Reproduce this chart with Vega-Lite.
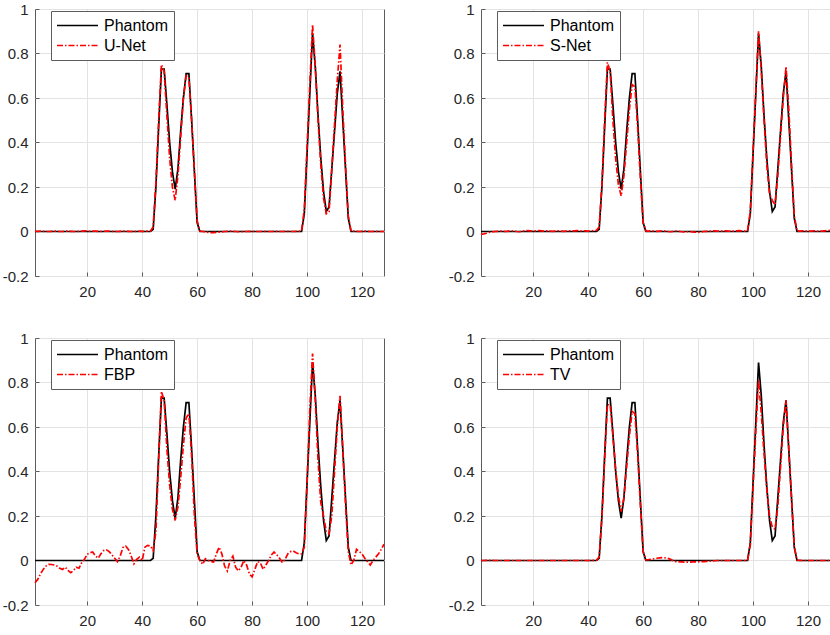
{
  "$schema": "https://vega.github.io/schema/vega-lite/v6.json",
  "padding": {"left": 1, "top": 1, "right": 0, "bottom": 0},
  "bounds": "flush",
  "columns": 2,
  "spacing": {"row": 62, "column": 97},
  "config": {
    "view": {"stroke": "#5c5c5c", "strokeWidth": 1},
    "font": "Liberation Sans",
    "axis": {
      "title": null,
      "domain": false,
      "grid": true,
      "gridColor": "#e3e3e3",
      "tickColor": "#5c5c5c",
      "tickSize": -4,
      "labelFont": "Liberation Sans",
      "labelFontSize": 15,
      "labelColor": "#262626"
    },
    "legend": {
      "orient": "none",
      "legendX": 16,
      "legendY": 2,
      "symbolType": "stroke",
      "symbolSize": 1681,
      "symbolStrokeWidth": 1.5,
      "labelFont": "Liberation Sans",
      "labelFontSize": 16,
      "labelColor": "#000000",
      "labelOffset": 5,
      "strokeColor": "#5c5c5c",
      "fillColor": "#ffffff",
      "padding": 5,
      "clipHeight": 19,
      "rowPadding": 1
    }
  },
  "data": {
    "values": [
      {"x": 1, "Phantom": 0, "U-Net": 0.001, "S-Net": -0.013, "FBP": -0.1, "TV": 0},
      {"x": 2, "Phantom": 0, "U-Net": 0.001, "S-Net": -0.011, "FBP": -0.085, "TV": 0},
      {"x": 3, "Phantom": 0, "U-Net": 0.002, "S-Net": -0.008, "FBP": -0.06, "TV": 0.001},
      {"x": 4, "Phantom": 0, "U-Net": 0.001, "S-Net": -0.004, "FBP": -0.04, "TV": 0.001},
      {"x": 5, "Phantom": 0, "U-Net": 0, "S-Net": -0.002, "FBP": -0.025, "TV": 0.001},
      {"x": 6, "Phantom": 0, "U-Net": 0, "S-Net": 0, "FBP": -0.017, "TV": 0},
      {"x": 7, "Phantom": 0, "U-Net": 0.001, "S-Net": 0.001, "FBP": -0.018, "TV": 0},
      {"x": 8, "Phantom": 0, "U-Net": 0.002, "S-Net": 0.002, "FBP": -0.02, "TV": 0},
      {"x": 9, "Phantom": 0, "U-Net": 0.001, "S-Net": 0.001, "FBP": -0.025, "TV": 0},
      {"x": 10, "Phantom": 0, "U-Net": 0, "S-Net": 0, "FBP": -0.035, "TV": 0},
      {"x": 11, "Phantom": 0, "U-Net": 0, "S-Net": 0.002, "FBP": -0.04, "TV": 0},
      {"x": 12, "Phantom": 0, "U-Net": 0.001, "S-Net": 0.003, "FBP": -0.03, "TV": 0},
      {"x": 13, "Phantom": 0, "U-Net": 0.002, "S-Net": 0.002, "FBP": -0.045, "TV": 0},
      {"x": 14, "Phantom": 0, "U-Net": 0.001, "S-Net": 0, "FBP": -0.055, "TV": 0},
      {"x": 15, "Phantom": 0, "U-Net": 0, "S-Net": -0.001, "FBP": -0.045, "TV": 0},
      {"x": 16, "Phantom": 0, "U-Net": 0, "S-Net": 0.001, "FBP": -0.03, "TV": 0},
      {"x": 17, "Phantom": 0, "U-Net": 0.001, "S-Net": 0.003, "FBP": -0.035, "TV": 0},
      {"x": 18, "Phantom": 0, "U-Net": 0.002, "S-Net": 0.004, "FBP": -0.01, "TV": 0},
      {"x": 19, "Phantom": 0, "U-Net": 0.003, "S-Net": 0.003, "FBP": 0.005, "TV": 0},
      {"x": 20, "Phantom": 0, "U-Net": 0.002, "S-Net": 0.002, "FBP": 0.028, "TV": 0},
      {"x": 21, "Phantom": 0, "U-Net": 0.001, "S-Net": 0.003, "FBP": 0.035, "TV": 0},
      {"x": 22, "Phantom": 0, "U-Net": 0.002, "S-Net": 0.004, "FBP": 0.038, "TV": 0},
      {"x": 23, "Phantom": 0, "U-Net": 0.002, "S-Net": 0.003, "FBP": 0.02, "TV": 0},
      {"x": 24, "Phantom": 0, "U-Net": 0.001, "S-Net": 0.002, "FBP": 0.01, "TV": 0},
      {"x": 25, "Phantom": 0, "U-Net": 0, "S-Net": 0.003, "FBP": 0.03, "TV": 0},
      {"x": 26, "Phantom": 0, "U-Net": 0.001, "S-Net": 0.002, "FBP": 0.045, "TV": 0},
      {"x": 27, "Phantom": 0, "U-Net": 0.002, "S-Net": 0.001, "FBP": 0.048, "TV": 0},
      {"x": 28, "Phantom": 0, "U-Net": 0.002, "S-Net": 0.002, "FBP": 0.04, "TV": 0},
      {"x": 29, "Phantom": 0, "U-Net": 0.001, "S-Net": 0.003, "FBP": 0.025, "TV": 0},
      {"x": 30, "Phantom": 0, "U-Net": 0, "S-Net": 0.002, "FBP": 0.01, "TV": 0},
      {"x": 31, "Phantom": 0, "U-Net": 0, "S-Net": 0.001, "FBP": -0.005, "TV": 0},
      {"x": 32, "Phantom": 0, "U-Net": 0.001, "S-Net": 0.002, "FBP": 0.02, "TV": 0},
      {"x": 33, "Phantom": 0, "U-Net": 0.002, "S-Net": 0.003, "FBP": 0.058, "TV": 0},
      {"x": 34, "Phantom": 0, "U-Net": 0.002, "S-Net": 0.002, "FBP": 0.065, "TV": 0},
      {"x": 35, "Phantom": 0, "U-Net": 0.001, "S-Net": 0.003, "FBP": 0.05, "TV": 0},
      {"x": 36, "Phantom": 0, "U-Net": 0, "S-Net": 0.004, "FBP": 0.02, "TV": 0},
      {"x": 37, "Phantom": 0, "U-Net": 0.001, "S-Net": 0.003, "FBP": -0.015, "TV": 0},
      {"x": 38, "Phantom": 0, "U-Net": 0.001, "S-Net": 0.002, "FBP": 0.005, "TV": 0},
      {"x": 39, "Phantom": 0, "U-Net": 0.002, "S-Net": 0.003, "FBP": 0.015, "TV": 0},
      {"x": 40, "Phantom": 0, "U-Net": 0.001, "S-Net": 0.002, "FBP": 0, "TV": 0},
      {"x": 41, "Phantom": 0, "U-Net": 0.001, "S-Net": 0.003, "FBP": 0.06, "TV": 0},
      {"x": 42, "Phantom": 0, "U-Net": 0.002, "S-Net": 0.004, "FBP": 0.068, "TV": 0.001},
      {"x": 43, "Phantom": 0, "U-Net": 0.002, "S-Net": 0.005, "FBP": 0.065, "TV": 0.002},
      {"x": 44, "Phantom": 0.01, "U-Net": 0.02, "S-Net": 0.02, "FBP": 0.045, "TV": 0.015},
      {"x": 45, "Phantom": 0.2, "U-Net": 0.22, "S-Net": 0.21, "FBP": 0.13, "TV": 0.19},
      {"x": 46, "Phantom": 0.47, "U-Net": 0.5, "S-Net": 0.5, "FBP": 0.45, "TV": 0.46},
      {"x": 47, "Phantom": 0.73, "U-Net": 0.75, "S-Net": 0.76, "FBP": 0.76, "TV": 0.7},
      {"x": 48, "Phantom": 0.73, "U-Net": 0.72, "S-Net": 0.72, "FBP": 0.72, "TV": 0.7},
      {"x": 49, "Phantom": 0.57, "U-Net": 0.52, "S-Net": 0.5, "FBP": 0.5, "TV": 0.56},
      {"x": 50, "Phantom": 0.4, "U-Net": 0.33, "S-Net": 0.33, "FBP": 0.34, "TV": 0.41},
      {"x": 51, "Phantom": 0.27, "U-Net": 0.2, "S-Net": 0.21, "FBP": 0.23, "TV": 0.29},
      {"x": 52, "Phantom": 0.19, "U-Net": 0.14, "S-Net": 0.16, "FBP": 0.18, "TV": 0.22},
      {"x": 53, "Phantom": 0.28, "U-Net": 0.25, "S-Net": 0.25, "FBP": 0.24, "TV": 0.28},
      {"x": 54, "Phantom": 0.45, "U-Net": 0.42, "S-Net": 0.4, "FBP": 0.37, "TV": 0.42},
      {"x": 55, "Phantom": 0.6, "U-Net": 0.6, "S-Net": 0.55, "FBP": 0.52, "TV": 0.56},
      {"x": 56, "Phantom": 0.71, "U-Net": 0.7, "S-Net": 0.66, "FBP": 0.64, "TV": 0.67},
      {"x": 57, "Phantom": 0.71, "U-Net": 0.69, "S-Net": 0.65, "FBP": 0.66, "TV": 0.66},
      {"x": 58, "Phantom": 0.5, "U-Net": 0.5, "S-Net": 0.47, "FBP": 0.47, "TV": 0.48},
      {"x": 59, "Phantom": 0.27, "U-Net": 0.27, "S-Net": 0.24, "FBP": 0.2, "TV": 0.25},
      {"x": 60, "Phantom": 0.04, "U-Net": 0.05, "S-Net": 0.04, "FBP": 0.03, "TV": 0.04},
      {"x": 61, "Phantom": 0, "U-Net": 0.002, "S-Net": 0.003, "FBP": 0, "TV": 0.003},
      {"x": 62, "Phantom": 0, "U-Net": 0.001, "S-Net": 0.002, "FBP": -0.017, "TV": 0.004},
      {"x": 63, "Phantom": 0, "U-Net": -0.002, "S-Net": 0.003, "FBP": 0.008, "TV": 0.006},
      {"x": 64, "Phantom": 0, "U-Net": -0.004, "S-Net": 0.002, "FBP": 0, "TV": 0.008},
      {"x": 65, "Phantom": 0, "U-Net": -0.005, "S-Net": 0.001, "FBP": -0.005, "TV": 0.01},
      {"x": 66, "Phantom": 0, "U-Net": -0.005, "S-Net": 0.002, "FBP": -0.007, "TV": 0.012},
      {"x": 67, "Phantom": 0, "U-Net": -0.004, "S-Net": 0.003, "FBP": 0.03, "TV": 0.013},
      {"x": 68, "Phantom": 0, "U-Net": -0.003, "S-Net": 0.002, "FBP": 0.06, "TV": 0.012},
      {"x": 69, "Phantom": 0, "U-Net": -0.002, "S-Net": 0, "FBP": 0.03, "TV": 0.01},
      {"x": 70, "Phantom": 0, "U-Net": 0, "S-Net": -0.001, "FBP": -0.025, "TV": 0.005},
      {"x": 71, "Phantom": 0, "U-Net": 0.001, "S-Net": 0, "FBP": -0.047, "TV": -0.002},
      {"x": 72, "Phantom": 0, "U-Net": 0.002, "S-Net": 0.002, "FBP": 0, "TV": -0.005},
      {"x": 73, "Phantom": 0, "U-Net": 0.001, "S-Net": 0.001, "FBP": 0.02, "TV": -0.006},
      {"x": 74, "Phantom": 0, "U-Net": 0, "S-Net": -0.001, "FBP": -0.03, "TV": -0.006},
      {"x": 75, "Phantom": 0, "U-Net": -0.001, "S-Net": -0.002, "FBP": -0.047, "TV": -0.007},
      {"x": 76, "Phantom": 0, "U-Net": -0.001, "S-Net": -0.001, "FBP": -0.03, "TV": -0.007},
      {"x": 77, "Phantom": 0, "U-Net": 0, "S-Net": 0, "FBP": 0, "TV": -0.007},
      {"x": 78, "Phantom": 0, "U-Net": 0, "S-Net": -0.002, "FBP": -0.02, "TV": -0.006},
      {"x": 79, "Phantom": 0, "U-Net": 0.001, "S-Net": -0.003, "FBP": -0.06, "TV": -0.006},
      {"x": 80, "Phantom": 0, "U-Net": 0.001, "S-Net": -0.004, "FBP": -0.074, "TV": -0.006},
      {"x": 81, "Phantom": 0, "U-Net": 0, "S-Net": -0.002, "FBP": -0.04, "TV": -0.005},
      {"x": 82, "Phantom": 0, "U-Net": 0, "S-Net": 0, "FBP": -0.005, "TV": -0.005},
      {"x": 83, "Phantom": 0, "U-Net": 0, "S-Net": 0.001, "FBP": -0.01, "TV": -0.004},
      {"x": 84, "Phantom": 0, "U-Net": 0.001, "S-Net": 0, "FBP": -0.04, "TV": -0.003},
      {"x": 85, "Phantom": 0, "U-Net": 0.001, "S-Net": 0.002, "FBP": -0.02, "TV": -0.002},
      {"x": 86, "Phantom": 0, "U-Net": 0, "S-Net": 0.003, "FBP": 0, "TV": -0.001},
      {"x": 87, "Phantom": 0, "U-Net": 0, "S-Net": 0.002, "FBP": 0.025, "TV": 0},
      {"x": 88, "Phantom": 0, "U-Net": 0.001, "S-Net": 0.001, "FBP": 0.038, "TV": 0},
      {"x": 89, "Phantom": 0, "U-Net": 0.001, "S-Net": 0.002, "FBP": 0.025, "TV": 0},
      {"x": 90, "Phantom": 0, "U-Net": 0, "S-Net": 0.003, "FBP": 0.01, "TV": 0},
      {"x": 91, "Phantom": 0, "U-Net": 0, "S-Net": 0.002, "FBP": -0.01, "TV": 0},
      {"x": 92, "Phantom": 0, "U-Net": 0.001, "S-Net": 0.001, "FBP": 0.005, "TV": 0},
      {"x": 93, "Phantom": 0, "U-Net": 0.001, "S-Net": 0.002, "FBP": 0.03, "TV": 0},
      {"x": 94, "Phantom": 0, "U-Net": 0, "S-Net": 0.003, "FBP": 0.04, "TV": 0},
      {"x": 95, "Phantom": 0, "U-Net": 0, "S-Net": 0.004, "FBP": 0.043, "TV": 0},
      {"x": 96, "Phantom": 0, "U-Net": 0.001, "S-Net": 0.003, "FBP": 0.035, "TV": 0},
      {"x": 97, "Phantom": 0, "U-Net": 0.001, "S-Net": 0.002, "FBP": 0.03, "TV": 0},
      {"x": 98, "Phantom": 0, "U-Net": 0.002, "S-Net": 0.004, "FBP": 0.03, "TV": 0.002},
      {"x": 99, "Phantom": 0.08, "U-Net": 0.1, "S-Net": 0.09, "FBP": 0.06, "TV": 0.07},
      {"x": 100, "Phantom": 0.35, "U-Net": 0.38, "S-Net": 0.36, "FBP": 0.35, "TV": 0.33},
      {"x": 101, "Phantom": 0.62, "U-Net": 0.66, "S-Net": 0.63, "FBP": 0.68, "TV": 0.58},
      {"x": 102, "Phantom": 0.89, "U-Net": 0.93, "S-Net": 0.9, "FBP": 0.93, "TV": 0.81},
      {"x": 103, "Phantom": 0.74, "U-Net": 0.74, "S-Net": 0.72, "FBP": 0.72, "TV": 0.66},
      {"x": 104, "Phantom": 0.52, "U-Net": 0.5, "S-Net": 0.5, "FBP": 0.45, "TV": 0.48},
      {"x": 105, "Phantom": 0.33, "U-Net": 0.3, "S-Net": 0.3, "FBP": 0.26, "TV": 0.32},
      {"x": 106, "Phantom": 0.18, "U-Net": 0.15, "S-Net": 0.17, "FBP": 0.2, "TV": 0.2},
      {"x": 107, "Phantom": 0.09, "U-Net": 0.08, "S-Net": 0.14, "FBP": 0.13, "TV": 0.15},
      {"x": 108, "Phantom": 0.11, "U-Net": 0.09, "S-Net": 0.12, "FBP": 0.12, "TV": 0.14},
      {"x": 109, "Phantom": 0.28, "U-Net": 0.28, "S-Net": 0.25, "FBP": 0.2, "TV": 0.24},
      {"x": 110, "Phantom": 0.45, "U-Net": 0.48, "S-Net": 0.43, "FBP": 0.4, "TV": 0.42},
      {"x": 111, "Phantom": 0.62, "U-Net": 0.68, "S-Net": 0.6, "FBP": 0.6, "TV": 0.6},
      {"x": 112, "Phantom": 0.72, "U-Net": 0.84, "S-Net": 0.74, "FBP": 0.74, "TV": 0.72},
      {"x": 113, "Phantom": 0.5, "U-Net": 0.55, "S-Net": 0.55, "FBP": 0.5, "TV": 0.5},
      {"x": 114, "Phantom": 0.28, "U-Net": 0.3, "S-Net": 0.3, "FBP": 0.25, "TV": 0.28},
      {"x": 115, "Phantom": 0.06, "U-Net": 0.07, "S-Net": 0.07, "FBP": 0.04, "TV": 0.06},
      {"x": 116, "Phantom": 0, "U-Net": 0.003, "S-Net": 0.003, "FBP": -0.02, "TV": 0.002},
      {"x": 117, "Phantom": 0, "U-Net": 0.002, "S-Net": 0.002, "FBP": 0, "TV": 0.001},
      {"x": 118, "Phantom": 0, "U-Net": 0.001, "S-Net": 0.003, "FBP": 0.05, "TV": 0},
      {"x": 119, "Phantom": 0, "U-Net": 0, "S-Net": 0.002, "FBP": 0.04, "TV": 0},
      {"x": 120, "Phantom": 0, "U-Net": 0.001, "S-Net": 0.001, "FBP": 0.03, "TV": 0},
      {"x": 121, "Phantom": 0, "U-Net": 0.002, "S-Net": 0.002, "FBP": 0.01, "TV": 0},
      {"x": 122, "Phantom": 0, "U-Net": 0.001, "S-Net": 0.003, "FBP": -0.005, "TV": 0},
      {"x": 123, "Phantom": 0, "U-Net": 0, "S-Net": 0.002, "FBP": -0.02, "TV": 0},
      {"x": 124, "Phantom": 0, "U-Net": 0, "S-Net": 0.001, "FBP": 0, "TV": 0},
      {"x": 125, "Phantom": 0, "U-Net": 0.001, "S-Net": 0.002, "FBP": 0.015, "TV": 0},
      {"x": 126, "Phantom": 0, "U-Net": 0, "S-Net": 0.003, "FBP": 0.03, "TV": 0},
      {"x": 127, "Phantom": 0, "U-Net": 0, "S-Net": 0.004, "FBP": 0.05, "TV": 0},
      {"x": 128, "Phantom": 0, "U-Net": 0, "S-Net": 0.005, "FBP": 0.073, "TV": 0}
    ]
  },
  "concat": [
    {
      "width": 349,
      "height": 267,
      "transform": [{"fold": ["Phantom", "U-Net"], "as": ["series", "value"]}],
      "mark": {"type": "line", "strokeWidth": 1.7},
      "encoding": {
        "x": {"field": "x", "type": "quantitative", "scale": {"domain": [1, 128], "nice": false, "zero": false}, "axis": {"values": [20, 40, 60, 80, 100, 120], "labelPadding": 12}},
        "y": {"field": "value", "type": "quantitative", "scale": {"domain": [-0.2, 1], "nice": false}, "axis": {"values": [-0.2, 0, 0.2, 0.4, 0.6, 0.8, 1], "labelExpr": "'' + datum.value", "labelPadding": 11}},
        "color": {"field": "series", "type": "nominal", "scale": {"domain": ["Phantom", "U-Net"], "range": ["#000000", "#ff0000"]}, "legend": {"title": null}},
        "strokeDash": {"field": "series", "type": "nominal", "scale": {"domain": ["Phantom", "U-Net"], "range": [[1, 0], [6, 2, 1.5, 2]]}, "legend": {"title": null}}
      }
    },
    {
      "width": 349,
      "height": 267,
      "transform": [{"fold": ["Phantom", "S-Net"], "as": ["series", "value"]}],
      "mark": {"type": "line", "strokeWidth": 1.7},
      "encoding": {
        "x": {"field": "x", "type": "quantitative", "scale": {"domain": [1, 128], "nice": false, "zero": false}, "axis": {"values": [20, 40, 60, 80, 100, 120], "labelPadding": 12}},
        "y": {"field": "value", "type": "quantitative", "scale": {"domain": [-0.2, 1], "nice": false}, "axis": {"values": [-0.2, 0, 0.2, 0.4, 0.6, 0.8, 1], "labelExpr": "'' + datum.value", "labelPadding": 11}},
        "color": {"field": "series", "type": "nominal", "scale": {"domain": ["Phantom", "S-Net"], "range": ["#000000", "#ff0000"]}, "legend": {"title": null}},
        "strokeDash": {"field": "series", "type": "nominal", "scale": {"domain": ["Phantom", "S-Net"], "range": [[1, 0], [6, 2, 1.5, 2]]}, "legend": {"title": null}}
      }
    },
    {
      "width": 349,
      "height": 267,
      "transform": [{"fold": ["Phantom", "FBP"], "as": ["series", "value"]}],
      "mark": {"type": "line", "strokeWidth": 1.7},
      "encoding": {
        "x": {"field": "x", "type": "quantitative", "scale": {"domain": [1, 128], "nice": false, "zero": false}, "axis": {"values": [20, 40, 60, 80, 100, 120], "labelPadding": 12}},
        "y": {"field": "value", "type": "quantitative", "scale": {"domain": [-0.2, 1], "nice": false}, "axis": {"values": [-0.2, 0, 0.2, 0.4, 0.6, 0.8, 1], "labelExpr": "'' + datum.value", "labelPadding": 11}},
        "color": {"field": "series", "type": "nominal", "scale": {"domain": ["Phantom", "FBP"], "range": ["#000000", "#ff0000"]}, "legend": {"title": null}},
        "strokeDash": {"field": "series", "type": "nominal", "scale": {"domain": ["Phantom", "FBP"], "range": [[1, 0], [6, 2, 1.5, 2]]}, "legend": {"title": null}}
      }
    },
    {
      "width": 349,
      "height": 267,
      "transform": [{"fold": ["Phantom", "TV"], "as": ["series", "value"]}],
      "mark": {"type": "line", "strokeWidth": 1.7},
      "encoding": {
        "x": {"field": "x", "type": "quantitative", "scale": {"domain": [1, 128], "nice": false, "zero": false}, "axis": {"values": [20, 40, 60, 80, 100, 120], "labelPadding": 12}},
        "y": {"field": "value", "type": "quantitative", "scale": {"domain": [-0.2, 1], "nice": false}, "axis": {"values": [-0.2, 0, 0.2, 0.4, 0.6, 0.8, 1], "labelExpr": "'' + datum.value", "labelPadding": 11}},
        "color": {"field": "series", "type": "nominal", "scale": {"domain": ["Phantom", "TV"], "range": ["#000000", "#ff0000"]}, "legend": {"title": null}},
        "strokeDash": {"field": "series", "type": "nominal", "scale": {"domain": ["Phantom", "TV"], "range": [[1, 0], [6, 2, 1.5, 2]]}, "legend": {"title": null}}
      }
    }
  ],
  "resolve": {"scale": {"color": "independent", "strokeDash": "independent"}}
}
